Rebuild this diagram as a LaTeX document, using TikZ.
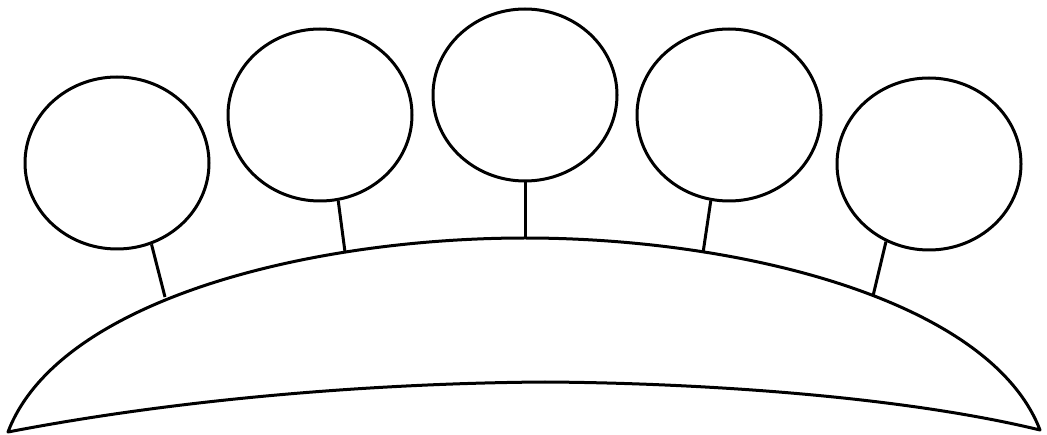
\documentclass[tikz,border=0pt]{standalone}
\usepackage{tikz}
\usetikzlibrary{shapes.geometric}

\begin{document}
\begin{tikzpicture}[x=1pt,y=-1pt,line width=3pt,line join=round]
    \tikzset{bud/.style={draw,ellipse,inner sep=0pt,minimum width=184pt,minimum height=172pt}}
    \useasboundingbox (0,0) rectangle (1047,435);
    % dome
    \draw (8,432) .. controls (58,300) and (310,238) .. (525,238)
      .. controls (740,238) and (990,300) .. (1040,430)
      .. controls (900,396) and (700,383) .. (545,382)
      .. controls (400,383) and (200,395) .. (8,432) -- cycle;
    % heads
    \node[bud] (c1) at (117,163) {};
    \node[bud] (c2) at (320,115) {};
    \node[bud] (c3) at (525,95) {};
    \node[bud] (c4) at (729,115) {};
    \node[bud] (c5) at (929,164) {};
    \coordinate (b1) at (165,297);
    \coordinate (b2) at (345,252);
    \coordinate (b3) at (525,238);
    \coordinate (b4) at (703,253);
    \coordinate (b5) at (873,296);
    \foreach \i/\a in {1/-67,2/-78,3/-90,4/-102,5/-119} \draw (c\i.\a) -- (b\i);
  \end{tikzpicture}
\end{document}
